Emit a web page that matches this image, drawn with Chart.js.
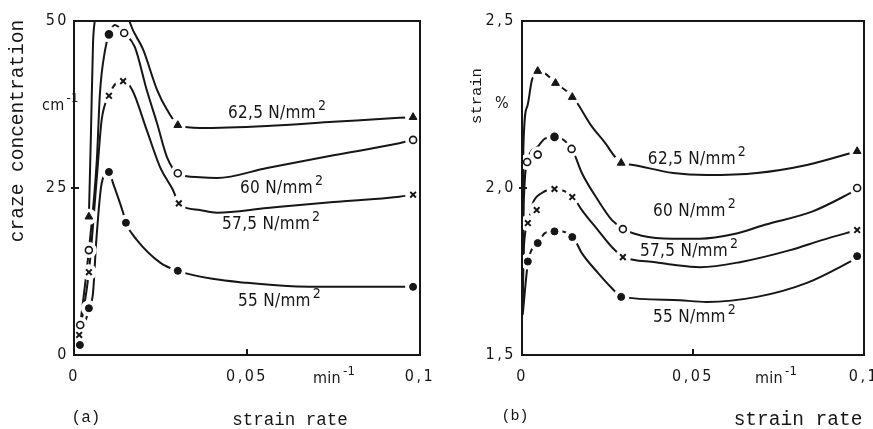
<!DOCTYPE html>
<html>
<head>
<meta charset="utf-8">
<title>craze concentration and strain vs strain rate</title>
<script src="https://cdn.jsdelivr.net/npm/chart.js@4.4.1/dist/chart.umd.min.js"></script>
<style>
  body { margin: 0; background: #fff; }
  .panel { position: absolute; top: 0; }
</style>
</head>
<body>
<canvas id="chartA" class="panel" width="440" height="429" style="left:0"></canvas>
<canvas id="chartB" class="panel" width="433" height="429" style="left:440px"></canvas>
<script>
const ink = '#161616';

// curve names, lowest stress first
const stressNames = ['55 N/mm', '57,5 N/mm', '60 N/mm', '62,5 N/mm'];

const rateTicks = [0, 0.05, 0.1];
const rateTickLabels = ['0', '0,05', '0,1'];
const crazeTicks = [0, 25, 50];
const crazeTickLabels = ['0', '25', '50'];
const strainTicks = [1.5, 2.0, 2.5];
const strainTickLabels = ['1,5', '2,0', '2,5'];

// (a) measured craze concentration
const crazeRate55 = [0.0017, 0.0043, 0.0101, 0.015, 0.030, 0.098];
const craze55 = [1.5, 7.0, 27.4, 19.8, 12.6, 10.2];
const crazeRate575 = [0.0015, 0.0043, 0.0101, 0.0142, 0.0303, 0.098];
const craze575 = [3.0, 12.4, 38.8, 41.0, 22.7, 24.0];
const crazeRate60 = [0.0018, 0.0043, 0.0101, 0.0145, 0.030, 0.098];
const craze60 = [4.5, 15.7, 48.0, 48.2, 27.2, 32.2];
const crazeRate625 = [0.0043, 0.030, 0.098];
const craze625 = [20.7, 34.4, 35.6];

// (a) hand drawn curves, traced
const crazeCurve55 = [[0.0017,1.5],[0.0043,7.0],[0.0055,9.3],[0.0064,16.8],[0.008,25.7],[0.0101,27.4],[0.0113,25.7],[0.0142,21.3],[0.015,19.8],[0.0182,17.2],[0.025,13.8],[0.030,12.6],[0.04,11.4],[0.05,10.8],[0.063,10.3],[0.08,10.2],[0.098,10.2]];
const crazeCurve575 = [[0.0015,3.0],[0.0043,12.4],[0.0066,26.6],[0.008,35.2],[0.0101,38.8],[0.012,40.6],[0.0142,41.0],[0.0168,39.7],[0.021,33.7],[0.0249,28.1],[0.0286,24.7],[0.0303,22.7],[0.0364,21.7],[0.0413,21.3],[0.0558,22.0],[0.075,22.9],[0.094,23.7],[0.098,24.0]];
const crazeCurve60 = [[0.0018,4.5],[0.0043,15.7],[0.0066,29.2],[0.0075,39.2],[0.009,45.7],[0.0101,48.0],[0.0118,49.4],[0.0145,48.2],[0.0176,46.1],[0.021,39.7],[0.024,34.7],[0.0269,29.6],[0.030,27.2],[0.0364,26.6],[0.0413,26.5],[0.0558,28.0],[0.075,29.9],[0.094,31.7],[0.098,32.2]];
const crazeCurve625 = [[0.0043,20.7],[0.0049,33.2],[0.0055,46.7],[0.006,50],[0.008,57],[0.0106,60],[0.013,57],[0.016,50],[0.02,45.7],[0.024,39.7],[0.0269,36.7],[0.0303,34.4],[0.0364,34.0],[0.0558,34.3],[0.075,34.9],[0.094,35.5],[0.098,35.6]];

// (b) measured strain
const strainRate55 = [0.0017, 0.0046, 0.0095, 0.0147, 0.029, 0.098];
const strain55 = [1.78, 1.835, 1.87, 1.853, 1.674, 1.796];
const strainRate575 = [0.0017, 0.0043, 0.0095, 0.0147, 0.0295, 0.098];
const strain575 = [1.895, 1.934, 1.997, 1.973, 1.793, 1.874];
const strainRate60 = [0.0015, 0.0046, 0.0095, 0.0145, 0.0295, 0.098];
const strain60 = [2.078, 2.10, 2.153, 2.117, 1.877, 2.0];
const strainRate625 = [0.0046, 0.0098, 0.0147, 0.029, 0.098];
const strain625 = [2.35, 2.314, 2.272, 2.075, 2.11];

// (b) hand drawn curves, traced
const strainCurve55 = [[0.0002,1.62],[0.0018,1.78],[0.0047,1.835],[0.0067,1.865],[0.0096,1.871],[0.0149,1.853],[0.0175,1.805],[0.0222,1.746],[0.0263,1.70],[0.0292,1.674],[0.0442,1.665],[0.054,1.659],[0.0687,1.674],[0.0833,1.716],[0.098,1.79]];
const strainCurve575 = [[0.0002,1.66],[0.0006,1.83],[0.0018,1.895],[0.0032,1.955],[0.0058,1.985],[0.0096,1.997],[0.0149,1.973],[0.0175,1.934],[0.0222,1.874],[0.0263,1.823],[0.0298,1.793],[0.039,1.778],[0.0442,1.77],[0.0521,1.763],[0.0637,1.778],[0.0784,1.814],[0.0877,1.844],[0.098,1.874]];
const strainCurve60 = [[0.0002,1.66],[0.0005,1.95],[0.0018,2.09],[0.0047,2.125],[0.0067,2.148],[0.0096,2.153],[0.0146,2.117],[0.0175,2.045],[0.0222,1.964],[0.0263,1.904],[0.0298,1.877],[0.035,1.857],[0.044,1.848],[0.052,1.848],[0.062,1.862],[0.071,1.89],[0.085,1.93],[0.098,1.995]];
const strainCurve625 = [[0.0002,1.66],[0.0004,2.12],[0.0015,2.243],[0.0029,2.323],[0.0047,2.35],[0.0065,2.345],[0.0099,2.314],[0.0149,2.272],[0.0205,2.183],[0.0243,2.135],[0.0272,2.093],[0.0292,2.075],[0.0325,2.069],[0.0442,2.045],[0.054,2.039],[0.0687,2.045],[0.0833,2.069],[0.098,2.11]];

const labelSpotsA = [[0.0474, 8.3], [0.0428, 19.7], [0.048, 25.2], [0.0445, 36.4]];
const labelSpotsB = [[0.0383, 1.617], [0.0345, 1.814], [0.0383, 1.934], [0.0368, 2.09]];

const sansFamily = '"DejaVu Sans Condensed", "DejaVu Sans", sans-serif';
const monoFamily = '"Liberation Mono", "Courier New", monospace';

const markerStyles = [
  {pointStyle: 'circle', pointRadius: 3.5, pointBackgroundColor: ink, pointBorderWidth: 1},
  {pointStyle: 'crossRot', pointRadius: 4, pointBorderWidth: 2},
  {pointStyle: 'circle', pointRadius: 3.5, pointBorderWidth: 1.6,
   pointBackgroundColor: c => c.dataIndex === 2 ? ink : '#fff'},
  {pointStyle: 'triangle', pointRadius: 4.5, pointBackgroundColor: ink, pointBorderWidth: 1}
];

function pts(xs, ys) {
  return xs.map((x, i) => ({x: x, y: ys[i]}));
}

function traced(pairs) {
  return pairs.map(p => ({x: p[0], y: p[1]}));
}

function makeDatasets(marks, curves) {
  const sets = [];
  marks.forEach((m, i) => {
    sets.push(Object.assign({data: m, showLine: false, order: 0, pointBorderColor: ink}, markerStyles[i]));
  });
  // white discs behind the markers, they cut the gaps in the drawn lines
  marks.forEach(m => {
    sets.push({data: m, showLine: false, order: 1, pointRadius: 8, pointStyle: 'circle',
      pointBackgroundColor: '#fff', pointBorderColor: '#fff', pointBorderWidth: 0});
  });
  curves.forEach(c => {
    sets.push({data: c, showLine: true, order: 2, pointRadius: 0, borderColor: ink,
      borderWidth: 2, cubicInterpolationMode: 'monotone', fill: false});
  });
  return sets;
}

function withSup(ctx, text, sup, x, y, size) {
  ctx.font = size + 'px ' + sansFamily;
  ctx.fillText(text, x, y);
  const w = ctx.measureText(text).width;
  ctx.font = (size - 3) + 'px ' + sansFamily;
  ctx.fillText(sup, x + w + 2, y - 8);
}

const paperPlugin = {
  id: 'paper',
  beforeDraw(chart) {
    chart.ctx.letterSpacing = '2.5px';
  },
  afterDatasetsDraw(chart, args, opts) {
    const ctx = chart.ctx, a = chart.chartArea;
    const xs = chart.scales.x, ys = chart.scales.y;
    ctx.save();
    ctx.strokeStyle = ink;
    ctx.lineWidth = 2;
    ctx.strokeRect(a.left, a.top, a.right - a.left, a.bottom - a.top);
    // short inward tick marks
    const tx = xs.getPixelForValue(opts.tickX), ty = ys.getPixelForValue(opts.tickY);
    ctx.beginPath();
    ctx.moveTo(tx, a.bottom);
    ctx.lineTo(tx, a.bottom - 6);
    ctx.moveTo(a.left - 3, ty);
    ctx.lineTo(a.left + 5, ty);
    ctx.stroke();

    ctx.fillStyle = ink;
    ctx.textAlign = 'left';
    ctx.textBaseline = 'alphabetic';
    ctx.letterSpacing = '0.3px';
    opts.spots.forEach((s, i) => {
      const px = xs.getPixelForValue(s[0]), py = ys.getPixelForValue(s[1]);
      withSup(ctx, stressNames[i], '2', px, py + 6, 17);
    });
    // units beside the axes
    opts.units.forEach(u => withSup(ctx, u.text, u.sup, u.x, u.y, 16));

    ctx.letterSpacing = '0px';
    ctx.textBaseline = 'middle';
    opts.titles.forEach(t => {
      ctx.save();
      ctx.translate(t.x, t.y);
      if (t.vertical) ctx.rotate(-Math.PI / 2);
      ctx.font = t.size + 'px ' + monoFamily;
      ctx.textAlign = 'center';
      ctx.fillText(t.text, 0, 0);
      ctx.restore();
    });
    ctx.restore();
  }
};

function axis(min, max, ticks, labels, size, pad) {
  return {
    type: 'linear', min: min, max: max,
    afterBuildTicks: s => { s.ticks = ticks.map(v => ({value: v})); },
    afterFit: s => {
      if (s.isHorizontal()) s.height = size; else s.width = size;
      s.paddingLeft = s.paddingRight = s.paddingTop = s.paddingBottom = 0;
    },
    ticks: {
      callback: (v, i) => labels[i], color: ink, padding: pad,
      autoSkip: false, maxRotation: 0, font: {family: sansFamily, size: 16}
    },
    grid: {display: false, drawTicks: false},
    border: {display: false}
  };
}

new Chart(document.getElementById('chartA'), {
  type: 'scatter',
  data: {
    datasets: makeDatasets(
      [pts(crazeRate55, craze55), pts(crazeRate575, craze575), pts(crazeRate60, craze60), pts(crazeRate625, craze625)],
      [traced(crazeCurve55), traced(crazeCurve575), traced(crazeCurve60), traced(crazeCurve625)])
  },
  options: {
    responsive: false,
    animation: false,
    layout: {padding: {left: 0, top: 21, right: 20, bottom: 0}},
    plugins: {
      legend: {display: false},
      tooltip: {enabled: false},
      paper: {
        spots: labelSpotsA,
        tickX: 0.05,
        tickY: 25,
        units: [
          {text: 'cm', sup: '-1', x: 42, y: 110},
          {text: 'min', sup: '-1', x: 313, y: 383}
        ],
        titles: [
          {text: 'craze concentration', x: 18, y: 131, size: 19.5, vertical: true},
          {text: '(a)', x: 86, y: 418, size: 16},
          {text: 'strain rate', x: 290, y: 420, size: 17.5}
        ]
      }
    },
    scales: {
      x: axis(0, 0.1, rateTicks, rateTickLabels, 74, 12),
      y: axis(0, 50, crazeTicks, crazeTickLabels, 74, 5)
    }
  },
  plugins: [paperPlugin]
});

new Chart(document.getElementById('chartB'), {
  type: 'scatter',
  data: {
    datasets: makeDatasets(
      [pts(strainRate55, strain55), pts(strainRate575, strain575), pts(strainRate60, strain60), pts(strainRate625, strain625)],
      [traced(strainCurve55), traced(strainCurve575), traced(strainCurve60), traced(strainCurve625)])
  },
  options: {
    responsive: false,
    animation: false,
    layout: {padding: {left: 0, top: 21, right: 9, bottom: 0}},
    plugins: {
      legend: {display: false},
      tooltip: {enabled: false},
      paper: {
        spots: labelSpotsB,
        tickX: 0.05,
        tickY: 2.0,
        units: [
          {text: '%', sup: '', x: 55, y: 108},
          {text: 'min', sup: '-1', x: 315, y: 383}
        ],
        titles: [
          {text: 'strain', x: 37, y: 96, size: 15.5, vertical: true},
          {text: '(b)', x: 75, y: 416, size: 15},
          {text: 'strain rate', x: 358, y: 420, size: 19.5}
        ]
      }
    },
    scales: {
      x: axis(0, 0.1, rateTicks, rateTickLabels, 74, 12),
      y: axis(1.5, 2.5, strainTicks, strainTickLabels, 82, 6)
    }
  },
  plugins: [paperPlugin]
});
</script>
</body>
</html>
